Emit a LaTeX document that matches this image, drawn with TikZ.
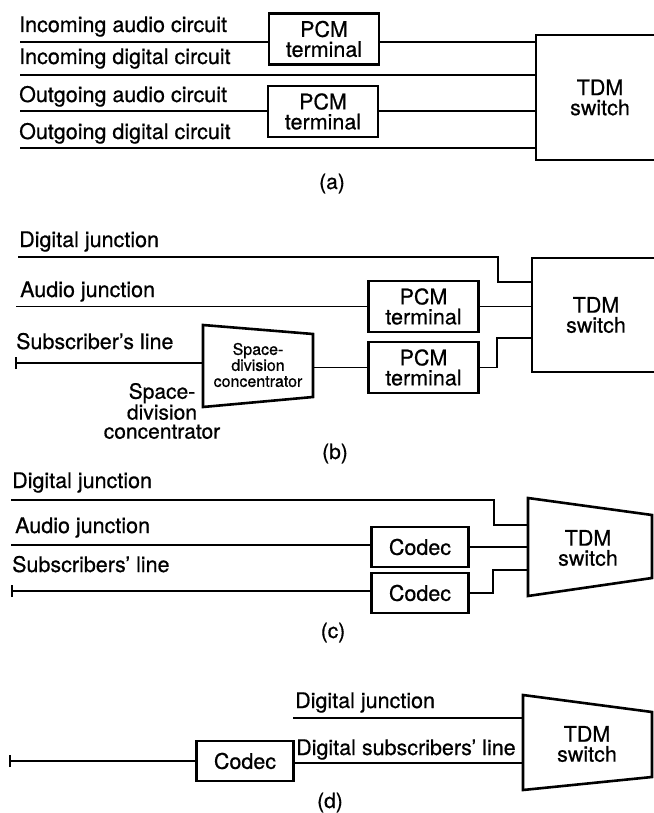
\documentclass[tikz,border=0pt]{standalone}
\usepackage{fontspec}
\setmainfont{TeX Gyre Heros}[FakeBold=0.6]
\usetikzlibrary{arrows.meta,calc}
\begin{document}
\begin{tikzpicture}[x=1pt,y=-1pt,
  lbl/.style={anchor=base west,inner sep=0pt,font=\fontsize{21.5}{20}\selectfont},
  captxt/.style={anchor=base,inner sep=0pt,font=\fontsize{21}{20}\selectfont},
  wire/.style={line width=1.8pt},
  blk/.style={draw,line width=2.6pt,inner sep=0pt,align=center,font=\fontsize{21.5}{20}\selectfont},
  pcmbox/.style={blk,minimum width=110pt,minimum height=51pt},
  codecbox/.style={blk,minimum width=97pt,minimum height=40pt},
  trapline/.style={draw,line width=2.6pt,line join=miter},
  innertxt/.style={inner sep=0pt,align=center,font=\fontsize{21.5}{20}\selectfont},
  smalltxt/.style={inner sep=0pt,align=center,font=\fontsize{16}{16}\selectfont},
  outertxt/.style={inner sep=0pt,align=center,font=\fontsize{21}{19}\selectfont},
  subline/.style={wire,{Bar[width=12pt,line width=1.8pt]}-}
]
\useasboundingbox (0,0) rectangle (653,813);

% ---------------- (a)
\node[pcmbox] (pa1) at (324,39) {PCM\\terminal};
\node[pcmbox] (pa2) at (323,111.5) {PCM\\terminal};
\node[blk,minimum width=128pt,minimum height=125pt] (ta) at (600,97.5) {TDM\\switch};

\node[lbl] (la1) at (19,32) {Incoming audio circuit};
\coordinate (a1) at (20,42);
\draw[wire] (a1) -- (a1 -| pa1.west);
\draw[wire] (a1 -| pa1.east) -- (a1 -| ta.west);

\node[lbl] (la2) at (19,64) {Incoming digital circuit};
\coordinate (a2) at (20,75);
\draw[wire] (a2) -- (a2 -| ta.west);

\node[lbl] (la3) at (19,102) {Outgoing audio circuit};
\coordinate (a3) at (20,111);
\draw[wire] (a3) -- (a3 -| pa2.west);
\draw[wire] (a3 -| pa2.east) -- (a3 -| ta.west);

\node[lbl] (la4) at (19,139) {Outgoing digital circuit};
\coordinate (a4) at (20,148);
\draw[wire] (a4) -- (a4 -| ta.west);

\node[captxt] (capa) at (332,189) {(a)};

% ---------------- (b)
\node[pcmbox] (pb1) at (423.5,306.5) {PCM\\terminal};
\node[pcmbox] (pb2) at (423.5,367.5) {PCM\\terminal};
\node[blk,minimum width=128pt,minimum height=114pt] (tb) at (596,315) {TDM\\switch};

\node[lbl] (lb1) at (19,247) {Digital junction};
\coordinate (b1) at (18,257);
\coordinate (b1k) at (498,282);
\draw[wire] (b1) -| (b1k) -- (b1k -| tb.west);

\node[lbl] (lb2) at (20,297) {Audio junction};
\coordinate (b2) at (16,306.5);
\draw[wire] (b2) -- (b2 -| pb1.west);
\draw[wire] (pb1.east) -- (pb1.east -| tb.west);

\node[lbl] (lb3) at (16,349) {Subscriber's line};
\coordinate (s1) at (203,325);
\coordinate (s2) at (313,334);
\coordinate (s3) at (313,397);
\coordinate (s4) at (203,407);
\draw[trapline] (s1) -- (s2) -- (s3) -- (s4) -- cycle;
\node[smalltxt] (sdc) at (258,365) {Space-\\division\\concentrator};
\coordinate (b3) at (15,363);
\draw[subline] (b3) -- (b3 -| s1);
\coordinate (b4) at (313,367.5);
\draw[wire] (b4) -- (b4 -| pb2.west);
\coordinate (b3k) at (497,338);
\draw[wire] (pb2.east) -| (b3k) -- (b3k -| tb.west);
\node[outertxt] (sdl) at (162,411) {Space-\\division\\concentrator};

\node[captxt] (capb) at (335,459) {(b)};

% ---------------- (c)
\coordinate (tc1) at (528,498);
\coordinate (tc2) at (652,515);
\coordinate (tc3) at (652,578);
\coordinate (tc4) at (528,596);
\draw[trapline] (tc1) -- (tc2) -- (tc3) -- (tc4) -- cycle;
\node[innertxt] (tcs) at (588,548) {TDM\\switch};

\node[lbl] (lc1) at (12,488) {Digital junction};
\coordinate (c1) at (11,500);
\coordinate (c1k) at (494,525);
\draw[wire] (c1) -| (c1k) -- (c1k -| tc1);

\node[codecbox] (cc1) at (420,547) {Codec};
\node[lbl] (lc2) at (15,533) {Audio junction};
\coordinate (c2) at (11,545);
\draw[wire] (c2) -- (c2 -| cc1.west);
\draw[wire] (cc1.east) -- (cc1.east -| tc1);

\node[codecbox] (cc2) at (420,593) {Codec};
\node[lbl] (lc3) at (12,572) {Subscribers' line};
\coordinate (c3) at (11,591);
\draw[subline] (c3) -- (c3 -| cc2.west);
\coordinate (c3k) at (493,570);
\draw[wire] (cc2.east) -| (c3k) -- (c3k -| tc1);

\node[captxt] (capc) at (333,638) {(c)};

% ---------------- (d)
\coordinate (td1) at (523,695);
\coordinate (td2) at (652,712);
\coordinate (td3) at (652,777);
\coordinate (td4) at (523,790);
\draw[trapline] (td1) -- (td2) -- (td3) -- (td4) -- cycle;
\node[innertxt] (tds) at (587,744) {TDM\\switch};

\node[lbl] (ld1) at (295,708) {Digital junction};
\coordinate (d1) at (293,718);
\draw[wire] (d1) -- (d1 -| td1);

\node[codecbox] (cd) at (245,761) {Codec};
\coordinate (d2) at (9,761);
\draw[subline] (d2) -- (cd.west);
\node[lbl] (ld2) at (296,755) {Digital subscribers' line};
\coordinate (d3) at (293,763);
\draw[wire] (cd.east |- d3) -- (d3 -| td1);

\node[captxt] (capd) at (330,808) {(d)};
\end{tikzpicture}
\end{document}
